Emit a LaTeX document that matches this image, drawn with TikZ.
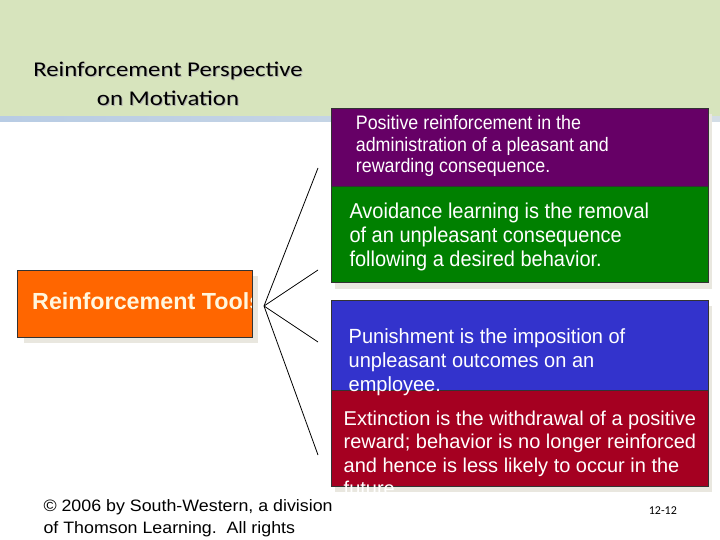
\documentclass[tikz,border=0pt]{standalone}
\usepackage{fontspec}
\setmainfont{Liberation Sans}
\newfontfamily\titlefont[FakeStretch=1.18]{Carlito}
\newfontfamily\pagefont{Carlito}
\newfontfamily\fontP[FakeStretch=0.915]{Liberation Sans}
\newfontfamily\fontG[FakeStretch=0.93]{Liberation Sans}
\newfontfamily\fontB[FakeStretch=0.975]{Liberation Sans}
\newfontfamily\fontR{Liberation Sans}
\newfontfamily\fontF[FakeStretch=1.08]{Liberation Sans}
\definecolor{headbg}{HTML}{D7E4BD}
\definecolor{stripL}{HTML}{B8CCE4}
\definecolor{stripR}{HTML}{D3DDE6}
\definecolor{shadowc}{HTML}{E9E7DF}
\definecolor{cpurple}{HTML}{660066}
\definecolor{cgreen}{HTML}{008000}
\definecolor{cblue}{HTML}{3333CC}
\definecolor{cred}{HTML}{A50021}
\definecolor{corange}{HTML}{FF6600}
\definecolor{cream}{HTML}{FFF6DE}
\tikzset{
  box/.style={draw=black!80, line width=0.8pt, rectangle, inner sep=0pt, anchor=north west},
  boxtext/.style={text=white, anchor=base west, inner sep=0pt, align=left},
  titletext/.style={font={\titlefont\fontsize{21}{29}\selectfont}, inner sep=0pt, anchor=base},
  conn/.style={draw=black, line width=0.8pt},
}
\begin{document}
\begin{tikzpicture}[x=1pt,y=-1pt]
\useasboundingbox (0,0) rectangle (720,540);
% header
\fill[headbg] (0,0) rectangle (720,116.5);
\shade[left color=stripL, right color=stripR] (0,116.5) rectangle (720,122);
% title
\node[titletext, text=black!30] (t1s) at (169,77.5) {Reinforcement Perspective};
\node[titletext, text=black!30] (t2s) at (169,106.8) {on Motivation};
\node[titletext] (t1) at (168,76.7) {Reinforcement Perspective};
\node[titletext] (t2) at (168,106) {on Motivation};
% shadows
\fill[shadowc] (335,114) rectangle (712,289);
\fill[shadowc] (335,306) rectangle (712,492);
\fill[shadowc] (24,276) rectangle (258,343);
% right boxes
\node[box, fill=cpurple, minimum width=377pt, minimum height=78pt] (pos) at (331,108) {};
\node[box, fill=cgreen, minimum width=377pt, minimum height=96pt] (avo) at (331,186) {};
\node[box, fill=cblue, minimum width=377pt, minimum height=90pt] (pun) at (331,300) {};
\node[box, fill=cred, minimum width=377pt, minimum height=96pt] (ext) at (331,390) {};
% orange box
\node[box, fill=corange, minimum width=234.5pt, minimum height=66.5pt] (tools) at (17,270) {};
\begin{scope}
\clip (17.5,270.5) rectangle (251,336);
\node[anchor=base west, inner sep=0pt, text=cream, font={\bfseries\fontsize{23.3}{27}\selectfont}] (toolstxt) at (32,309.3) {Reinforcement Tools};
\end{scope}
% box texts (base anchor = last line's baseline)
\node[boxtext, font={\fontP\fontsize{19.5}{21.5}\selectfont}] (postxt) at (355.7,173) {Positive reinforcement in the\\administration of a pleasant and\\rewarding consequence.};
\node[boxtext, font={\fontG\fontsize{21.5}{24}\selectfont}] (avotxt) at (349.3,266.3) {Avoidance learning is the removal\\of an unpleasant consequence\\following a desired behavior.};
\node[boxtext, font={\fontB\fontsize{20.5}{24}\selectfont}] (puntxt) at (348.5,391.3) {Punishment is the imposition of\\unpleasant outcomes on an\\employee.};
\node[boxtext, font={\fontR\fontsize{20}{23.5}\selectfont}] (exttxt) at (343.5,495.5) {Extinction is the withdrawal of a positive\\reward; behavior is no longer reinforced\\and hence is less likely to occur in the\\future.};
% connectors
\coordinate (hub) at (264,306);
\coordinate (e1) at (318,168);
\coordinate (e2) at (318,270);
\coordinate (e3) at (318,342);
\coordinate (e4) at (318,455);
\draw[conn] (hub) -- (e1);
\draw[conn] (hub) -- (e2);
\draw[conn] (hub) -- (e3);
\draw[conn] (hub) -- (e4);
% footer
\node[anchor=base west, inner sep=0pt, align=left, font={\fontF\fontsize{16.5}{21.6}\selectfont}] (copy) at (43.3,533.3) {© 2006 by South-Western, a division\\of Thomson Learning.\ \ All rights};
\node[anchor=base west, inner sep=0pt, font={\pagefont\fontsize{12}{14}\selectfont}] (pageno) at (648.7,514) {12-12};
\end{tikzpicture}
\end{document}
